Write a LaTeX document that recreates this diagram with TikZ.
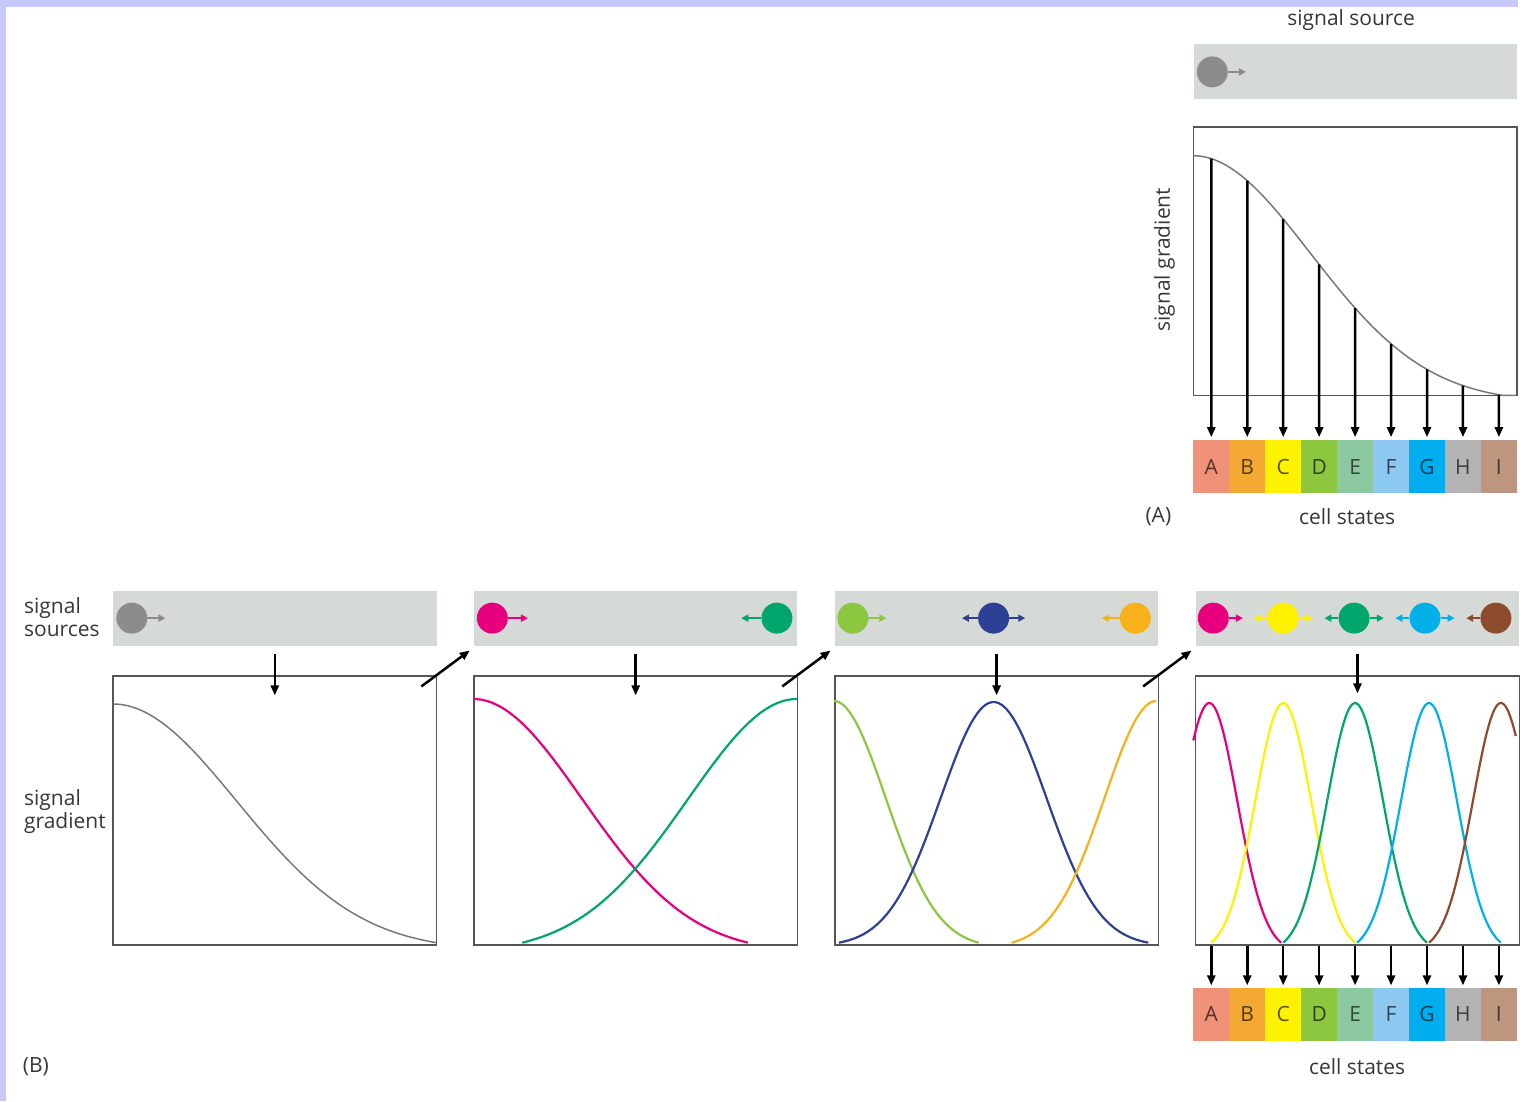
\documentclass[tikz,border=0pt]{standalone}
\usepackage{fontspec}
\setmainfont{Open Sans}
\usetikzlibrary{arrows.meta,positioning}

\definecolor{lav}{RGB}{200,200,250}
\definecolor{txt}{RGB}{55,55,55}
\definecolor{barg}{RGB}{214,218,214}
\definecolor{frame}{RGB}{85,85,85}
\definecolor{sgray}{RGB}{140,140,140}
\definecolor{cgray}{RGB}{120,120,120}
\definecolor{mag}{RGB}{230,0,126}
\definecolor{grn}{RGB}{0,166,107}
\definecolor{lgrn}{RGB}{141,198,63}
\definecolor{blu}{RGB}{46,63,150}
\definecolor{gold}{RGB}{247,178,27}
\definecolor{yel}{RGB}{255,242,0}
\definecolor{cyn}{RGB}{0,176,230}
\definecolor{brn}{RGB}{140,75,45}
% cell state colours
\definecolor{cA}{RGB}{240,146,120}
\definecolor{cB}{RGB}{242,168,50}
\definecolor{cC}{RGB}{255,242,0}
\definecolor{cD}{RGB}{141,198,63}
\definecolor{cE}{RGB}{140,200,160}
\definecolor{cF}{RGB}{140,200,240}
\definecolor{cG}{RGB}{0,174,239}
\definecolor{cH}{RGB}{180,180,180}
\definecolor{cI}{RGB}{190,150,128}

\begin{document}
\begin{tikzpicture}[x=1pt, y=-1pt,
    font=\fontsize{21}{23}\selectfont, text=txt,
    bar/.style={fill=barg, minimum width=324pt, minimum height=55pt, inner sep=0pt},
    plotbox/.style={draw=frame, line width=1.5pt, minimum width=324pt, minimum height=269pt, inner sep=0pt},
    ball/.style={circle, fill=#1, minimum size=31pt, inner sep=0pt},
    spark/.style={draw=#1, line width=2.5pt, -{Triangle[length=7pt,width=7pt]}},
    arr/.style={line width=2.5pt, -{Triangle[length=10pt,width=8pt]}},
    cell/.style={minimum width=36pt, minimum height=53pt, inner sep=0pt, font=\fontsize{21}{23}\selectfont},
    curve/.style={line width=2.2pt, line join=round},
    declare function={bump(\dist,\wid,\reach)=max(0,(exp(-(\dist)*(\dist)/(2*(\wid)*(\wid)))-exp(-(\reach)*(\reach)/(2*(\wid)*(\wid))))/(1-exp(-(\reach)*(\reach)/(2*(\wid)*(\wid)))));}
]
    % Frame
    \fill[lav] (0,0) rectangle (1520,1103);
    \fill[white] (6,7) rectangle (1520,1103);

    % (A) single source
    \node (srcA) at (1353,20) {signal source};
    \node[bar, anchor=north west] (barA) at (1195,44) {};
    \node[plotbox, below=27pt of barA] (plotA) {};
    \node[ball=sgray] (sA) at (1214,72) {};
    \draw[spark=sgray] (sA.east) -- ++(18pt,0);
    \draw[curve, cgray, line width=1.5pt] plot[domain=0:3.23, samples=80] ({1195+100*\x}, {396-240*bump(\x,1.17,3.1)});
    \node[rotate=90] (gradA) at (1166,260) {signal gradient};

    % (B) sources
    \node[align=left, anchor=west, inner sep=0pt] (srcB) at (24,618) {signal\\sources};
    \node[align=left, anchor=west, inner sep=0pt] (gradB) at (24,813) {signal\\gradient};
    \node[bar, anchor=north west] (bar1) at (113,592) {};
    \node[bar, right=37pt of bar1] (bar2) {};
    \node[bar, right=37pt of bar2] (bar3) {};
    \node[bar, right=37pt of bar3] (bar4) {};
    \node[plotbox, below=29pt of bar1] (plot1) {};
    \node[plotbox, below=29pt of bar2] (plot2) {};
    \node[plotbox, below=29pt of bar3] (plot3) {};
    \node[plotbox, below=29pt of bar4] (plot4) {};

    \node[ball=sgray] (s1) at (132,619) {};
    \draw[spark=sgray] (s1.east) -- ++(18pt,0);

    \node[ball=mag] (m2) at (493,619) {};
    \node[ball=grn] (g2) at (778,619) {};
    \draw[spark=mag] (m2.east) -- ++(20pt,0);
    \draw[spark=grn] (g2.west) -- ++(-20pt,0);

    \node[ball=lgrn] (l3) at (854,619) {};
    \node[ball=blu] (b3) at (995,619) {};
    \node[ball=gold] (o3) at (1137,619) {};
    \draw[spark=lgrn] (l3.east) -- ++(18pt,0);
    \draw[spark=blu] (b3.east) -- ++(16pt,0);
    \draw[spark=blu] (b3.west) -- ++(-16pt,0);
    \draw[spark=gold] (o3.west) -- ++(-18pt,0);

    \node[ball=mag] (m4) at (1215,619) {};
    \node[ball=yel] (y4) at (1285,619) {};
    \node[ball=grn] (g4) at (1356,619) {};
    \node[ball=cyn] (c4) at (1427,619) {};
    \node[ball=brn] (r4) at (1498,619) {};
    \draw[spark=mag] (m4.east) -- ++(14pt,0);
    \draw[spark=yel] (y4.west) -- ++(-14pt,0);
    \draw[spark=yel] (y4.east) -- ++(14pt,0);
    \draw[spark=grn] (g4.west) -- ++(-14pt,0);
    \draw[spark=grn] (g4.east) -- ++(14pt,0);
    \draw[spark=cyn] (c4.west) -- ++(-14pt,0);
    \draw[spark=cyn] (c4.east) -- ++(14pt,0);
    \draw[spark=brn] (r4.west) -- ++(-14pt,0);

    % Gradients
    \draw[curve, cgray, line width=1.5pt] plot[domain=1.13:4.37, samples=80] ({100*\x}, {944-239*bump(\x-1.13,1.24,3.24)});
    \draw[curve, mag] plot[domain=4.74:7.49, samples=70] ({100*\x}, {944-244*bump(\x-4.74,1.09,2.75)});
    \draw[curve, grn] plot[domain=5.23:7.98, samples=70] ({100*\x}, {944-244*bump(\x-7.98,1.09,2.75)});
    \draw[curve, lgrn] plot[domain=8.35:9.80, samples=60] ({100*\x}, {944-242*bump(\x-8.35,0.52,1.45)});
    \draw[curve, blu] plot[domain=8.40:11.50, samples=90] ({100*\x}, {944-241*bump(\x-9.95,0.53,1.55)});
    \draw[curve, gold] plot[domain=10.13:11.58, samples=60] ({100*\x}, {944-242*bump(\x-11.58,0.52,1.45)});
    \draw[curve, mag] plot[domain=11.95:12.83, samples=50] ({100*\x}, {944-240*bump(\x-12.11,0.28,0.72)});
    \draw[curve, yel] plot[domain=12.13:13.57, samples=60] ({100*\x}, {944-240*bump(\x-12.85,0.28,0.72)});
    \draw[curve, grn] plot[domain=12.85:14.29, samples=60] ({100*\x}, {944-240*bump(\x-13.57,0.28,0.72)});
    \draw[curve, cyn] plot[domain=13.59:15.03, samples=60] ({100*\x}, {944-240*bump(\x-14.31,0.28,0.72)});
    \draw[curve, brn] plot[domain=14.31:15.18, samples=50] ({100*\x}, {944-240*bump(\x-15.03,0.28,0.72)});

    % Arrows between stages
    \draw[arr] ([yshift=-8pt]bar1.south) -- ([yshift=-20pt]plot1.north);
    \draw[arr] ([yshift=-8pt]bar2.south) -- ([yshift=-20pt]plot2.north);
    \draw[arr] ([yshift=-8pt]bar3.south) -- ([yshift=-20pt]plot3.north);
    \draw[arr] ([yshift=-8pt]bar4.south) -- ([yshift=-18pt]plot4.north);
    \draw[arr] ([shift={(-16pt,-11pt)}]plot1.north east) -- ([shift={(-4pt,-4pt)}]bar2.south west);
    \draw[arr] ([shift={(-16pt,-11pt)}]plot2.north east) -- ([shift={(-4pt,-4pt)}]bar3.south west);
    \draw[arr] ([shift={(-16pt,-11pt)}]plot3.north east) -- ([shift={(-4pt,-4pt)}]bar4.south west);

    % Cell states
    \foreach \n/\c [count=\i] in {A/cA,B/cB,C/cC,D/cD,E/cE,F/cF,G/cG,H/cH,I/cI}{
        \node[cell, fill=\c, text=\c!35!black] (a\i) at (1177+36*\i,467.5) {\n};
        \node[cell, fill=\c, text=\c!35!black] (b\i) at (1177+36*\i,1015.5) {\n};
    }
    \foreach \i in {1,...,9}{
        \pgfmathsetmacro\gx{(36*\i-18)/100}
        \coordinate (ga\i) at ({1195+100*\gx},{396-240*bump(\gx,1.17,3.1)});
        \draw[arr, shorten >=3pt] (ga\i) -- (a\i.north);
        \draw[arr, shorten >=2pt] (b\i.north |- plot4.south) -- (b\i.north);
    }

    % Labels
    \node (tagA) at (1160,517) {(A)};
    \node (statesA) at (1349,517) {cell states};
    \node (tagB) at (36,1068) {(B)};
    \node (statesB) at (1359,1068) {cell states};
\end{tikzpicture}
\end{document}
